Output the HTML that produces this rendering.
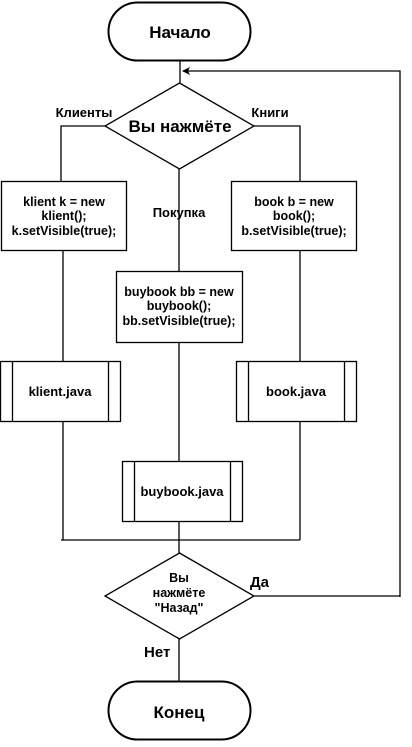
<!DOCTYPE html>
<html><head><meta charset="utf-8"><style>
html,body{margin:0;padding:0;background:#fff;}
svg text{font-family:"Liberation Sans",Arial,sans-serif;font-weight:bold;fill:#000;}
</style></head><body>
<svg width="412" height="742" viewBox="0 0 412 742" xmlns="http://www.w3.org/2000/svg">
<g fill="none" stroke="#000" stroke-width="1.3">
<rect x="108.5" y="2.5" width="142" height="58" rx="29" ry="29" stroke-width="2"/>
<line x1="180" y1="61" x2="180" y2="83"/>
<polyline points="183,71 400,71 400,597"/>
<polygon points="179.5,83 254,126 179.5,169 105,126"/>
<polyline points="105,126 61,126 61,181"/>
<polyline points="254,126 300,126 300,181"/>
<line x1="179" y1="169" x2="179" y2="271"/>
<rect x="1.5" y="181.5" width="125" height="69"/>
<rect x="231.5" y="181.5" width="125" height="69"/>
<rect x="116.5" y="271.5" width="126" height="71"/>
<line x1="63" y1="250" x2="63" y2="361"/>
<line x1="300" y1="250" x2="300" y2="361"/>
<rect x="0.5" y="361.5" width="120" height="60"/>
<line x1="12.5" y1="361" x2="12.5" y2="421"/><line x1="108.5" y1="361" x2="108.5" y2="421"/>
<rect x="236.5" y="361.5" width="120" height="60"/>
<line x1="248.5" y1="361" x2="248.5" y2="421"/><line x1="344.5" y1="361" x2="344.5" y2="421"/>
<line x1="179" y1="342" x2="179" y2="461"/>
<rect x="122.5" y="461.5" width="120" height="60"/>
<line x1="134.5" y1="461" x2="134.5" y2="521"/><line x1="230.5" y1="461" x2="230.5" y2="521"/>
<line x1="63" y1="421" x2="63" y2="540"/>
<line x1="300" y1="421" x2="300" y2="540"/>
<line x1="61" y1="540" x2="300" y2="540"/>
<line x1="179" y1="521" x2="179" y2="553"/>
<polygon points="179.5,553 254,596 179.5,639 105,596"/>
<line x1="254" y1="596" x2="400" y2="596"/>
<line x1="179" y1="639" x2="179" y2="681"/>
<rect x="108.5" y="681.5" width="142" height="58" rx="29" ry="29" stroke-width="2"/>
</g>
<polygon points="182,71 190,67 188,71 190,75" fill="#000"/>
<g text-anchor="middle">
<text x="180" y="38" font-size="17">Начало</text>
<text x="180" y="132" font-size="17">Вы нажмёте</text>
<text x="84" y="117" font-size="13">Клиенты</text>
<text x="270" y="117" font-size="13">Книги</text>
<text x="179" y="217" font-size="13">Покупка</text>
<text x="64" y="206" font-size="12.5">klient k = new</text>
<text x="64" y="220" font-size="12.5">klient();</text>
<text x="64" y="235" font-size="12.5">k.setVisible(true);</text>
<text x="294" y="206" font-size="12.5">book b = new</text>
<text x="294" y="220" font-size="12.5">book();</text>
<text x="294" y="235" font-size="12.5">b.setVisible(true);</text>
<text x="179" y="296" font-size="12.5">buybook bb = new</text>
<text x="179" y="310" font-size="12.5">buybook();</text>
<text x="179" y="325" font-size="12.5">bb.setVisible(true);</text>
<text x="60" y="396" font-size="13">klient.java</text>
<text x="296" y="396" font-size="13">book.java</text>
<text x="182" y="496" font-size="13">buybook.java</text>
<text x="179" y="582" font-size="12.5">Вы</text>
<text x="179" y="597" font-size="12.5">нажмёте</text>
<text x="179" y="612" font-size="12.5">"Назад"</text>
<text x="179" y="718" font-size="17">Конец</text>
</g>
<text x="250" y="587" font-size="15">Да</text>
<text x="144" y="657" font-size="15">Нет</text>
</svg>
</body></html>
